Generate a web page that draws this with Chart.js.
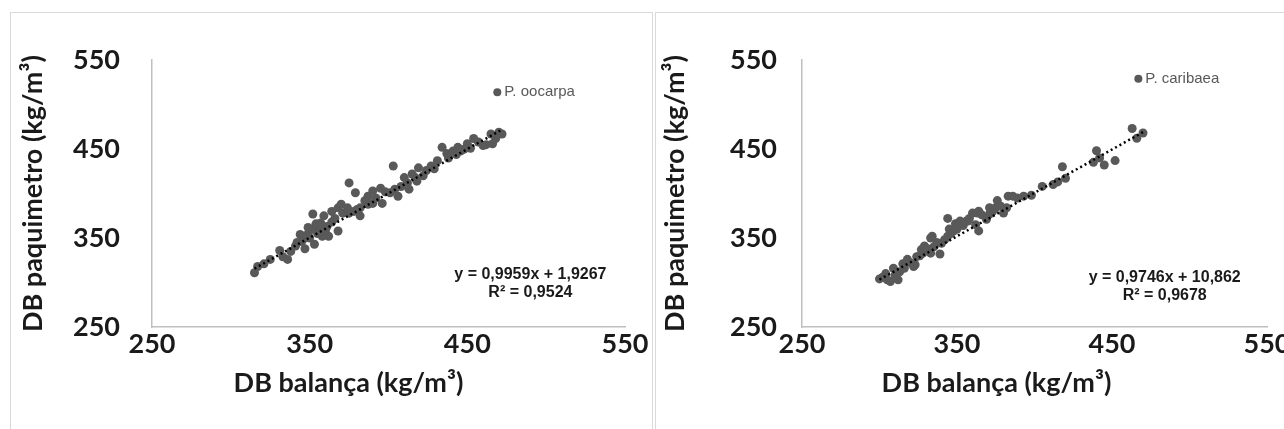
<!DOCTYPE html>
<html>
<head>
<meta charset="utf-8">
<script src="https://cdn.jsdelivr.net/npm/chart.js@4.4.1/dist/chart.umd.min.js"></script>
<style>
    body { margin: 0; background: #fff; width: 1284px; height: 429px; overflow: hidden; position: relative; }
    .frame { position: absolute; top: 12px; height: 440px; border: 1px solid #d9d9d9; box-sizing: border-box; }
    canvas { position: absolute; top: 12px; }
</style>
</head>
<body>
<div class="frame" style="left:10px; width:643px;"></div>
<div class="frame" style="left:655px; width:680px;"></div>
<canvas id="oocarpaChart" width="642" height="417" style="left:10px"></canvas>
<canvas id="caribaeaChart" width="660" height="417" style="left:655px"></canvas>
<script>
// axis ticks (kg/m3)
const axisTicks = [250, 350, 450, 550];

// P. oocarpa : DB balança (x) vs DB paquimetro (y)
const oocarpaX = [315, 317, 321, 325, 331, 333, 336, 338, 341, 345, 347, 344, 349, 352, 355, 350, 358, 361, 368, 357,
    352, 359, 364, 368, 370, 374, 378, 382, 387, 390, 358, 362, 375, 382, 375, 379, 387, 390, 395, 396,
    401, 403, 406, 410, 412, 415, 419, 418, 427, 431, 434, 437, 441, 444, 448, 450, 454, 460, 466, 465,
    470, 357, 354, 360, 364, 347, 353, 342, 349, 366, 371, 380, 385, 392, 398, 404, 408, 413, 417, 422,
    424, 429, 438, 443, 446, 452, 457, 462, 468, 472];
const oocarpaY = [311, 318, 321, 326, 336, 329, 326, 335, 341, 346, 338, 354, 355, 360, 355, 350, 361, 363, 358, 367,
    377, 375, 380, 384, 388, 384, 380, 384, 388, 389, 352, 352, 378, 375, 412, 401, 397, 403, 406, 389,
    401, 431, 397, 418, 412, 422, 429, 414, 431, 437, 452, 445, 448, 452, 450, 456, 462, 454, 456, 467,
    469, 360, 366, 358, 368, 350, 343, 345, 362, 372, 378, 382, 392, 395, 402, 405, 408, 405, 418, 420,
    426, 428, 440, 444, 448, 451, 458, 455, 462, 467];

// P. caribaea
const caribaeaX = [300, 304, 307, 312, 309, 315, 318, 322, 324, 327, 329, 333, 334, 339, 340, 344, 345, 344, 349, 352,
    356, 360, 364, 364, 369, 371, 375, 376, 382, 383, 386, 389, 393, 371, 363, 357, 351, 333, 302, 305,
    310, 313, 316, 320, 323, 326, 328, 331, 335, 337, 342, 346, 348, 350, 354, 358, 362, 366, 373, 378,
    380, 398, 405, 412, 415, 418, 420, 438, 440, 442, 445, 452, 463, 466, 470];
const caribaeaY = [304, 310, 301, 303, 316, 321, 326, 318, 329, 337, 341, 333, 352, 332, 344, 352, 360, 372, 366, 369,
    369, 378, 380, 358, 371, 377, 384, 392, 384, 397, 397, 395, 397, 384, 378, 369, 367, 350, 306, 303,
    308, 312, 316, 322, 320, 330, 333, 338, 340, 345, 348, 355, 358, 360, 364, 372, 365, 376, 380, 386,
    378, 398, 408, 410, 413, 430, 417, 435, 448, 440, 432, 437, 473, 462, 468];

// linear trendlines as printed on the chart
const oocarpaFit = { slope: 0.9959, intercept: 1.9267, r2: '0,9524', label: 'y = 0,9959x + 1,9267' };
const caribaeaFit = { slope: 0.9746, intercept: 10.862, r2: '0,9678', label: 'y = 0,9746x + 10,862' };

const xTitle = 'DB balança (kg/m³)';
const yTitle = 'DB paquimetro (kg/m³)';

const toPoints = (xs, ys) => xs.map((x, i) => ({ x: x, y: ys[i] }));

const fitLine = (xs, fit) => {
    const lo = Math.min(...xs), hi = Math.max(...xs);
    return [lo, hi].map(x => ({ x: x, y: fit.slope * x + fit.intercept }));
};

const markerColor = '#595959';
const textColor = '#1a1a1a';
const tickFont = { family: 'Lato', size: 27, weight: 'bold' };
const titleFont = { family: 'Lato', size: 27, weight: 'bold' };

// legend, trendline equation and x title (Excel puts it a bit left of centre)
const notesPlugin = {
    id: 'notes',
    afterDatasetsDraw(chart, args, opts) {
        const { ctx, chartArea, scales: { x, y } } = chart;
        ctx.save();
        const lx = x.getPixelForValue(opts.legendAt[0]);
        const ly = y.getPixelForValue(opts.legendAt[1]);
        ctx.fillStyle = markerColor;
        ctx.beginPath();
        ctx.arc(lx, ly, 4, 0, Math.PI * 2);
        ctx.fill();
        ctx.font = '15px "Liberation Sans", Arial';
        ctx.textBaseline = 'middle';
        ctx.textAlign = 'left';
        ctx.fillText(opts.legend, lx + 7, ly);

        ctx.fillStyle = textColor;
        ctx.font = 'bold 16px "Liberation Sans", Arial';
        ctx.textAlign = 'center';
        const ex = x.getPixelForValue(opts.eqAt[0]);
        ctx.fillText(opts.fit.label, ex, y.getPixelForValue(opts.eqAt[1]));
        ctx.fillText('R² = ' + opts.fit.r2, ex, y.getPixelForValue(opts.eqAt[2]));

        ctx.font = 'bold 27px Lato';
        ctx.fillText(xTitle, (chartArea.left + chartArea.right) / 2 + opts.xTitleShift, chartArea.bottom + 56);
        ctx.restore();
    }
};

const buildChart = (canvasId, xs, ys, fit, legend, box) => {
    const ctx = document.getElementById(canvasId).getContext('2d');
    return new Chart(ctx, {
        type: 'scatter',
        data: {
            datasets: [{
                data: fitLine(xs, fit),
                showLine: true,
                borderColor: '#000',
                borderWidth: 2.5,
                borderDash: [2, 3],
                pointRadius: 0
            }, {
                data: toPoints(xs, ys),
                backgroundColor: markerColor,
                borderColor: markerColor,
                pointRadius: 4.5,
                borderWidth: 0
            }]
        },
        options: {
            responsive: false,
            animation: false,
            layout: { padding: { top: 48, right: box.padRight, left: 0, bottom: 0 } },
            plugins: {
                legend: { display: false },
                tooltip: { enabled: false },
                notes: { legend: legend, fit: fit, legendAt: box.legendAt, eqAt: box.eqAt, xTitleShift: box.xTitleShift }
            },
            scales: {
                x: {
                    min: 250, max: 550,
                    afterFit: s => { s.height = 102; },
                    afterBuildTicks: s => { s.ticks = axisTicks.map(v => ({ value: v })); },
                    grid: { display: false, drawTicks: false },
                    border: { display: true, color: '#bfbfbf', width: 1.5 },
                    ticks: { color: textColor, font: tickFont, padding: 1 }
                },
                y: {
                    min: 250, max: 550,
                    afterFit: s => { s.width = box.yWidth; },
                    afterBuildTicks: s => { s.ticks = axisTicks.map(v => ({ value: v })); },
                    grid: { display: false, drawTicks: false },
                    border: { display: true, color: '#bfbfbf', width: 1.5 },
                    ticks: { color: textColor, font: tickFont, padding: box.tickPad },
                    title: { display: true, text: yTitle, color: textColor, font: titleFont, padding: { top: box.titlePad, bottom: 0 } }
                }
            }
        },
        plugins: [notesPlugin]
    });
};

buildChart('oocarpaChart', oocarpaX, oocarpaY, oocarpaFit, 'P. oocarpa',
    { yWidth: 142, padRight: 27, tickPad: 32, titlePad: 7, xTitleShift: -40,
      legendAt: [469, 514], eqAt: [490, 309, 289] });
buildChart('caribaeaChart', caribaeaX, caribaeaY, caribaeaFit, 'P. caribaea',
    { yWidth: 147, padRight: 48, tickPad: 25, titlePad: 4, xTitleShift: -38,
      legendAt: [467, 529], eqAt: [484, 305, 285] });
</script>
</body>
</html>
